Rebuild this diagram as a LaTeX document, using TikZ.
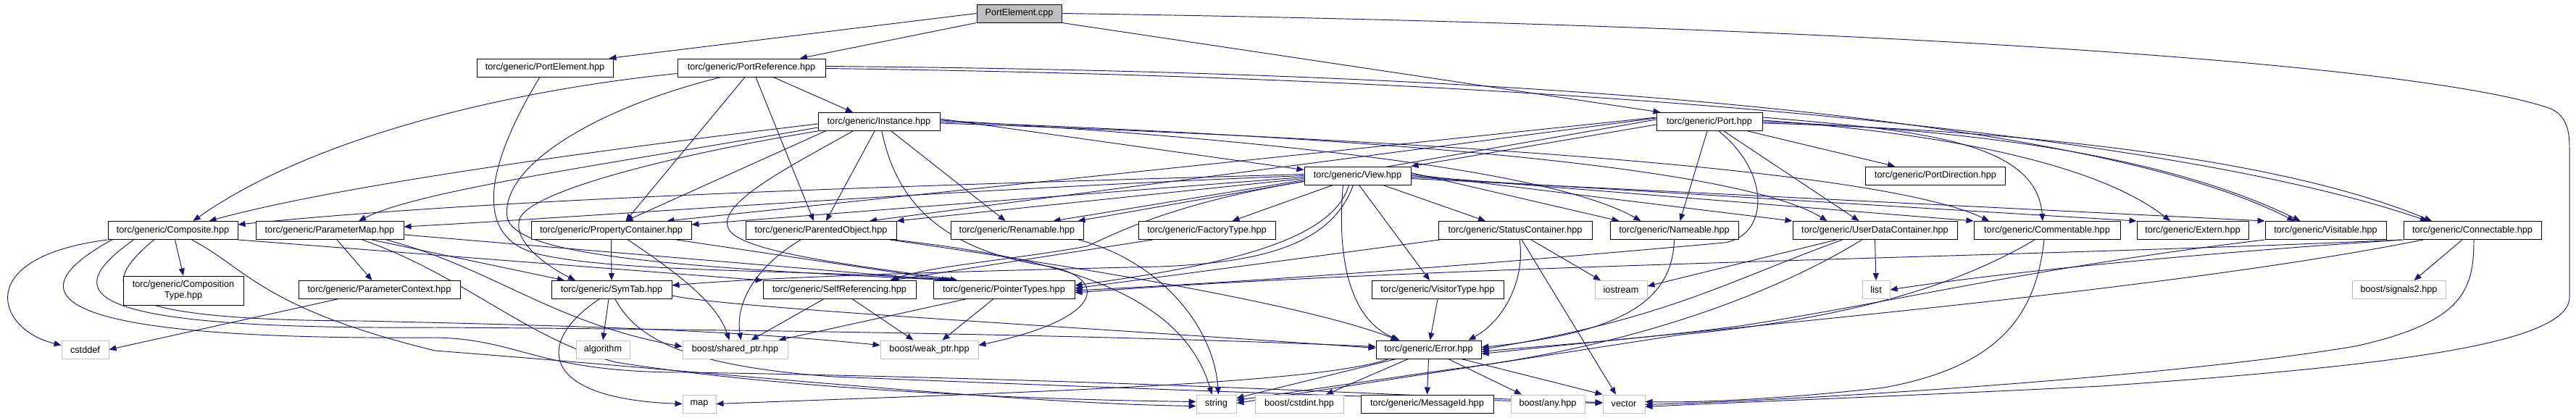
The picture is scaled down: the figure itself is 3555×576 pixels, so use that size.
\documentclass[tikz,border=0pt]{standalone}
\usepackage{fontspec}
\setmainfont{Liberation Sans}
\usetikzlibrary{arrows.meta}
\definecolor{edgecol}{HTML}{191970}
\definecolor{grey75}{HTML}{BFBFBF}
\newcommand{\nodefont}{\fontsize{12.7}{15}\selectfont}
\pgfdeclarelayer{edgelayer}
\pgfsetlayers{edgelayer,main}
\begin{document}
\begin{tikzpicture}[x=1pt,y=-1pt,
  box/.style={draw=black, line width=0.95pt, fill=white, minimum height=25pt, inner sep=0pt, font=\nodefont, text=black},
  sysbox/.style={box, draw=grey75},
  rootbox/.style={box, fill=grey75},
  e/.style={draw=edgecol, line width=0.95pt, -{Triangle[length=10pt,width=8pt]}}]
\useasboundingbox (0,0) rectangle (3555,576);
% row 0
\node[rootbox, minimum width=117pt] (cpp) at (1406.5,18.5) {PortElement.cpp};
% row 1
\node[box, minimum width=188pt] (peh) at (752,93.5) {torc/generic/PortElement.hpp};
\node[box, minimum width=204pt] (prh) at (1037,93.5) {torc/generic/PortReference.hpp};
% row 2
\node[box, minimum width=168pt] (inst) at (1213,168) {torc/generic/Instance.hpp};
\node[box, minimum width=146pt] (port) at (2359,168) {torc/generic/Port.hpp};
% row 3
\node[box, minimum width=147pt] (view) at (1873.5,242.5) {torc/generic/View.hpp};
\node[box, minimum width=193pt] (pdir) at (2671,242.5) {torc/generic/PortDirection.hpp};
% row 4
\node[box, minimum width=179pt] (comp) at (238.5,318) {torc/generic/Composite.hpp};
\node[box, minimum width=204pt] (pmap) at (455,318) {torc/generic/ParameterMap.hpp};
\node[box, minimum width=221pt] (prop) at (843.5,318) {torc/generic/PropertyContainer.hpp};
\node[box, minimum width=208pt] (parent) at (1133,318) {torc/generic/ParentedObject.hpp};
\node[box, minimum width=183pt] (ren) at (1403.5,318) {torc/generic/Renamable.hpp};
\node[box, minimum width=189pt] (fact) at (1665.5,318) {torc/generic/FactoryType.hpp};
\node[box, minimum width=212pt] (stat) at (2091,318) {torc/generic/StatusContainer.hpp};
\node[box, minimum width=177pt] (name) at (2310.5,318) {torc/generic/Nameable.hpp};
\node[box, minimum width=227pt] (udc) at (2587.5,318) {torc/generic/UserDataContainer.hpp};
\node[box, minimum width=202pt] (comm) at (2825,318) {torc/generic/Commentable.hpp};
\node[box, minimum width=154pt] (ext) at (3026,318) {torc/generic/Extern.hpp};
\node[box, minimum width=167pt] (vis) at (3209.5,318) {torc/generic/Visitable.hpp};
\node[box, minimum width=190pt] (conn) at (3412,318) {torc/generic/Connectable.hpp};
% row 5
\node[box, minimum width=166pt, minimum height=40pt, align=center] (ctype) at (253,401) {torc/generic/Composition\\Type.hpp};
\node[box, minimum width=223pt] (pctx) at (523.5,400) {torc/generic/ParameterContext.hpp};
\node[box, minimum width=166pt] (symtab) at (844,400) {torc/generic/SymTab.hpp};
\node[box, minimum width=211pt] (selfref) at (1158.5,400) {torc/generic/SelfReferencing.hpp};
\node[box, minimum width=195pt] (ptr) at (1385.5,400) {torc/generic/PointerTypes.hpp};
\node[box, minimum width=182pt] (vtype) at (1984,400) {torc/generic/VisitorType.hpp};
\node[sysbox, minimum width=72pt] (iostream) at (2237,400) {iostream};
\node[sysbox, minimum width=38pt] (list) at (2589,400) {list};
\node[sysbox, minimum width=129pt] (sig) at (3310.5,400) {boost/signals2.hpp};
% row 6
\node[sysbox, minimum width=65pt] (cstddef) at (117.5,482.5) {cstddef};
\node[sysbox, minimum width=74pt] (algo) at (832,482.5) {algorithm};
\node[sysbox, minimum width=145pt] (sptr) at (1014.5,482.5) {boost/shared\_ptr.hpp};
\node[sysbox, minimum width=135pt] (wptr) at (1282.5,482.5) {boost/weak\_ptr.hpp};
\node[box, minimum width=145pt] (err) at (1971.5,482.5) {torc/generic/Error.hpp};
% row 7
\node[sysbox, minimum width=46pt] (map) at (965,557.5) {map};
\node[sysbox, minimum width=55pt] (string) at (1678.5,557.5) {string};
\node[sysbox, minimum width=122pt] (cstdint) at (1793,557.5) {boost/cstdint.hpp};
\node[box, minimum width=183pt] (msgid) at (1969.5,557.5) {torc/generic/MessageId.hpp};
\node[sysbox, minimum width=102pt] (any) at (2136,557.5) {boost/any.hpp};
\node[sysbox, minimum width=58pt] (vector) at (2241,557.5) {vector};

\begin{pgfonlayer}{edgelayer}
\fill[white] (0,0) rectangle (3555,576);
% PortElement.cpp
\draw[e] (cpp.west) -- ([xshift=-6pt]peh.north east);
\draw[e] (cpp.south west) -- ([xshift=67pt]prh.north);
\draw[e] (cpp.south east) -- ([xshift=6pt]port.north west);
\draw[e] (cpp.east) .. controls (2600,35) and (3350,90) .. (3520,150) .. controls (3542,160) and (3546,180) .. (3546,205) -- (3546,410) .. controls (3546,475) and (3300,505) .. (2900,533) .. controls (2600,548) and (2400,555) .. ([yshift=-4pt]vector.east);
% PortElement.hpp
\draw[e] ([xshift=-7pt]peh.south) .. controls (700,180) and (630,320) .. (740,350) .. controls (850,378) and (1150,372) .. ([xshift=-72pt]ptr.north);
% PortReference.hpp
\draw[e] ([yshift=-8pt]prh.west) .. controls (700,125) and (430,190) .. ([xshift=28pt]comp.north);
\draw[e] ([xshift=-42pt]prh.south) .. controls (820,150) and (690,230) .. (700,300) .. controls (710,350) and (900,368) .. ([xshift=-68pt]ptr.north);
\draw[e] ([xshift=-9pt]prh.south) -- ([xshift=20pt]prop.north);
\draw[e] ([xshift=6pt]prh.south) -- ([xshift=-10pt]parent.north);
\draw[e] ([xshift=30pt]prh.south) -- ([xshift=-36pt]inst.north);
\draw[e] ([yshift=2pt]prh.east) .. controls (2200,100) and (2900,170) .. ([xshift=-43pt]vis.north);
\draw[e] ([yshift=-1pt]prh.east) .. controls (2200,108) and (3000,185) .. ([xshift=-62pt]conn.north);
% Instance.hpp
\draw[e] ([yshift=-3pt]inst.west) .. controls (800,210) and (460,258) .. ([xshift=50pt]comp.north);
\draw[e] ([yshift=-8pt]inst.west) .. controls (850,225) and (580,262) .. ([xshift=40pt]pmap.north);
\draw[e] (inst.south west) .. controls (950,210) and (740,260) .. (718,300) .. controls (705,330) and (750,365) .. ([xshift=-50pt]symtab.north);
\draw[e] ([xshift=-74pt]inst.south) -- ([xshift=20pt]prop.north);
\draw[e] ([xshift=-36pt]inst.south) .. controls (1090,230) and (990,280) .. (1005,315) .. controls (1020,350) and (1200,368) .. ([xshift=-64pt]ptr.north);
\draw[e] ([xshift=-6pt]inst.south) -- ([xshift=7pt]parent.north);
\draw[e] ([xshift=4pt]inst.south) .. controls (1235,270) and (1290,345) .. (1450,368) .. controls (1530,385) and (1525,440) .. ([yshift=6pt]wptr.east);
\draw[e] ([xshift=17pt]inst.south) -- ([xshift=-16pt]ren.north);
\draw[e] ([yshift=4pt]inst.east) -- ([yshift=8pt]view.west);
\draw[e] ([yshift=2pt]inst.east) .. controls (1800,195) and (2150,240) .. ([xshift=-46pt]name.north);
\draw[e] (inst.east) .. controls (1900,190) and (2400,230) .. ([xshift=-66pt]udc.north);
\draw[e] ([yshift=-2pt]inst.east) .. controls (2000,195) and (2600,235) .. ([xshift=-80pt]comm.north);
% View.hpp
\draw[e] ([yshift=2pt]view.west) .. controls (1300,255) and (700,272) .. ([yshift=8pt]comp.east);
\draw[e] (view.west) .. controls (1300,262) and (800,300) .. ([yshift=5pt]pmap.east);
\draw[e] ([yshift=-2pt]view.west) -- ([yshift=8pt]prop.east);
\draw[e] ([yshift=-4pt]view.west) -- (parent.north east);
\draw[e] ([yshift=-6pt]view.west) -- ([xshift=50pt]ren.north);
\draw[e] ([xshift=-6pt]view.south) .. controls (1840,330) and (1760,362) .. (1600,368) .. controls (1300,375) and (1050,383) .. ([yshift=6pt]symtab.east);
\draw[e] ([yshift=-8pt]view.west) .. controls (1620,280) and (1540,322) .. (1500,340) .. controls (1400,358) and (1280,368) .. ([xshift=70pt]selfref.north);
\draw[e] ([xshift=-34pt]view.south) -- ([xshift=35pt]fact.north);
\draw[e] ([xshift=-12pt]view.south) .. controls (1840,330) and (1700,365) .. ([yshift=6pt]ptr.east);
\draw[e] ([xshift=-20pt]view.south) .. controls (1845,350) and (1860,440) .. ([xshift=-40pt]err.north);
\draw[e] ([xshift=2pt]view.south) -- ([xshift=-11pt]vtype.north);
\draw[e] ([xshift=35pt]view.south) -- ([xshift=-41pt]stat.north);
\draw[e] ([yshift=4pt]view.east) -- ([xshift=-76pt]name.north);
\draw[e] ([yshift=2pt]view.east) -- (udc.north west);
\draw[e] (view.east) -- (comm.north west);
\draw[e] ([yshift=-2pt]view.east) -- (ext.north west);
\draw[e] ([yshift=-4pt]view.east) -- (vis.north west);
% Port.hpp
\draw[e] ([yshift=-4pt]port.west) -- (view.north east);
\draw[e] ([yshift=6pt]port.west) -- ([xshift=77pt]prop.north);
\draw[e] ([yshift=5pt]port.west) -- ([xshift=67pt]parent.north);
\draw[e] ([yshift=3pt]port.west) -- ([xshift=84pt]ren.north);
\draw[e] ([xshift=-3pt]port.south) -- ([xshift=8pt]name.north);
\draw[e] ([xshift=13pt]port.south) .. controls (2445,240) and (2440,325) .. (2380,335) .. controls (2100,360) and (1800,385) .. ([yshift=-1pt]ptr.east);
\draw[e] ([xshift=20pt]port.south) -- ([xshift=-22pt]udc.north);
\draw[e] ([xshift=53pt]port.south) -- ([xshift=-56pt]pdir.north);
\draw[e] ([yshift=6pt]port.east) .. controls (2650,180) and (2810,195) .. ([xshift=-6pt]comm.north);
\draw[e] ([yshift=2pt]port.east) .. controls (2700,185) and (2900,230) .. ([xshift=-31pt]ext.north);
\draw[e] (port.east) .. controls (2750,180) and (3000,220) .. ([xshift=-35pt]vis.north);
\draw[e] ([yshift=-2pt]port.east) .. controls (2800,180) and (3150,220) .. ([xshift=-56pt]conn.north);
% Composite.hpp
\draw[e] (comp.south west) .. controls (-40,355) and (-5,455) .. ([yshift=6pt]cstddef.west);
\draw[e] ([xshift=3pt]comp.south) -- (ctype.north);
\draw[e] (comp.south east) -- (selfref.north west);
\draw[e] ([xshift=-26pt]comp.south) .. controls (130,400) and (140,442) .. (500,443) .. controls (800,450) and (1000,455) .. ([yshift=6pt]wptr.west);
\draw[e] ([xshift=-54pt]comp.south) .. controls (80,405) and (100,455) .. (600,452) .. controls (1100,455) and (1600,465) .. ([yshift=4pt]err.west);
\draw[e] ([xshift=-84pt]comp.south) .. controls (20,405) and (50,470) .. (600,466) .. controls (720,468) and (740,515) .. (950,514) .. controls (1600,525) and (2000,550) .. ([yshift=2pt]vector.west);
\draw[e] ([xshift=26pt]comp.south) .. controls (340,370) and (360,425) .. (600,484) .. controls (1000,515) and (1400,557) .. ([yshift=-3pt]string.west);
% ParameterMap.hpp
\draw[e] ([xshift=10pt]pmap.south) -- ([xshift=-10pt]pctx.north);
\draw[e] ([xshift=58pt]pmap.south) -- ([xshift=-65pt]symtab.north);
\draw[e] ([xshift=78pt]pmap.south) .. controls (680,370) and (760,445) .. ([yshift=4pt]sptr.west);
\draw[e] ([yshift=-6pt]pmap.east) -- ([xshift=-80pt]ptr.north);
\draw[e] ([xshift=45pt]pmap.south) .. controls (640,380) and (730,470) .. (850,500) .. controls (1100,540) and (1450,552) .. ([yshift=3pt]string.west);
\draw[e] ([xshift=-58pt]pctx.south) -- (cstddef.east);
% PropertyContainer.hpp
\draw[e] (prop.south) -- (symtab.north);
\draw[e] ([xshift=23pt]prop.south) .. controls (940,380) and (990,420) .. ([xshift=-8pt]sptr.north);
\draw[e] ([xshift=90pt]prop.south) -- ([xshift=-76pt]ptr.north);
% ParentedObject.hpp
\draw[e] ([xshift=-28pt]parent.south) .. controls (1040,370) and (1015,420) .. ([xshift=8pt]sptr.north);
\draw[e] ([xshift=95pt]parent.south) .. controls (1500,370) and (1800,420) .. ([xshift=-42pt]err.north);
\draw[e] ([xshift=100pt]parent.south) .. controls (1450,355) and (1630,400) .. ([xshift=-6pt]string.north);
% Renamable.hpp
\draw[e] ([xshift=85pt]ren.south) .. controls (1600,360) and (1675,450) .. ([xshift=3pt]string.north);
% FactoryType.hpp
\draw[e] ([xshift=-75pt]fact.south) -- ([xshift=72pt]selfref.north);
% SymTab.hpp
\draw[e] ([xshift=-17pt]symtab.south) .. controls (740,470) and (740,550) .. (map.west);
\draw[e] ([xshift=-4pt]symtab.south) -- (algo.north);
\draw[e] ([yshift=-8pt]symtab.east) .. controls (1000,425) and (1500,452) .. ([yshift=2pt]err.west);
\draw[e] ([xshift=5pt]symtab.south) .. controls (880,470) and (950,505) .. (1150,520) .. controls (1600,538) and (2000,552) .. ([yshift=1pt]vector.west);
% SelfReferencing / PointerTypes
\draw[e] ([xshift=-22pt]selfref.south) -- ([xshift=22pt]sptr.north);
\draw[e] ([xshift=18pt]selfref.south) -- ([xshift=-22pt]wptr.north);
\draw[e] ([xshift=-53pt]ptr.south) -- ([xshift=60pt]sptr.north);
\draw[e] ([xshift=-15pt]ptr.south) -- ([xshift=18pt]wptr.north);
% StatusContainer.hpp
\draw[e] ([xshift=-104pt]stat.south) -- ([yshift=2pt]ptr.east);
\draw[e] ([xshift=6pt]stat.south) .. controls (2105,380) and (2080,440) .. ([xshift=55pt]err.north);
\draw[e] ([xshift=9pt]stat.south) -- ([xshift=-11pt]vector.north);
\draw[e] ([xshift=22pt]stat.south) -- ([xshift=-28pt]iostream.north);
% Nameable, VisitorType
\draw[e] (name.south) .. controls (2308,420) and (2230,460) .. ([yshift=3pt]err.east);
\draw[e] (vtype.south) -- ([xshift=2pt]err.north);
% UserDataContainer.hpp
\draw[e] (udc.south) -- (list.north);
\draw[e] ([xshift=-53pt]udc.south) -- ([yshift=5pt]iostream.east);
\draw[e] ([xshift=-45pt]udc.south) .. controls (2380,390) and (2300,440) .. (err.east);
\draw[e] ([xshift=-18pt]udc.south) .. controls (2450,405) and (2250,480) .. (2000,510) -- ([yshift=5pt]string.east);
% Commentable.hpp
\draw[e] ([xshift=-17pt]comm.south) .. controls (2700,395) and (2550,440) .. (2320,462) -- ([yshift=1pt]string.east);
\draw[e] ([xshift=-4pt]comm.south) .. controls (2810,430) and (2765,505) .. (2600,535) .. controls (2450,552) and (2330,556) .. ([yshift=3pt]vector.east);
% Visitable.hpp
\draw[e] (vis.south west) .. controls (2800,370) and (2600,420) .. (2400,450) .. controls (2250,470) and (2120,478) .. ([yshift=-3pt]err.east);
% Connectable.hpp
\draw[e] (conn.south west) .. controls (3000,352) and (2750,378) .. (list.east);
\draw[e] ([xshift=-2pt]conn.south west) .. controls (2800,355) and (2000,365) .. ([yshift=-4pt]ptr.east);
\draw[e] ([xshift=-68pt]conn.south) .. controls (3000,400) and (2400,450) .. ([yshift=-6pt]err.east);
\draw[e] ([xshift=-14pt]conn.south) -- ([xshift=21pt]sig.north);
\draw[e] ([xshift=2pt]conn.south) .. controls (3414,400) and (3400,445) .. (3250,478) .. controls (3000,520) and (2500,552) .. ([yshift=-1pt]vector.east);
% Error.hpp
\draw[e] ([xshift=-55pt]err.south) .. controls (1820,530) and (1400,542) .. (map.east);
\draw[e] ([xshift=-45pt]err.south) -- ([yshift=8pt]string.east);
\draw[e] ([xshift=-28pt]err.south) -- ([xshift=37pt]cstdint.north);
\draw[e] (err.south) -- (msgid.north);
\draw[e] ([xshift=27pt]err.south) -- ([xshift=-36pt]any.north);
\draw[e] ([xshift=45pt]err.south) -- (vector.north west);
\end{pgfonlayer}
\end{tikzpicture}
\end{document}
